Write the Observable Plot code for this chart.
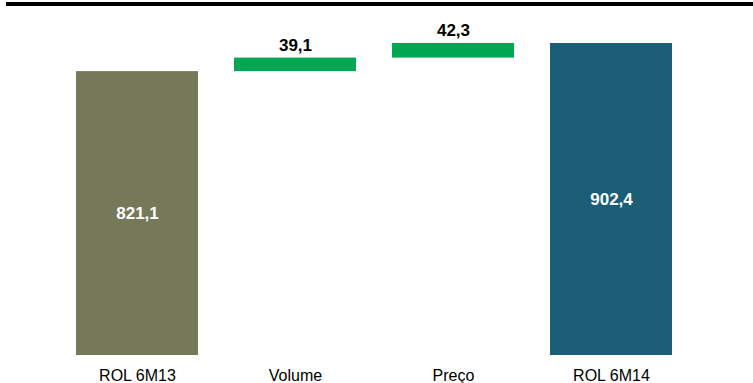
<!DOCTYPE html>
<html>
<head>
<meta charset="utf-8">
<script src="https://cdn.jsdelivr.net/npm/d3@7"></script>
<script src="https://cdn.jsdelivr.net/npm/@observablehq/plot@0.6"></script>
<style>
  html, body { margin: 0; padding: 0; background: #fff; }
  #wrap { position: relative; width: 753px; height: 383px; overflow: hidden; }
  #topline { position: absolute; left: 6px; right: 0; top: 2px; height: 4px; background: #000; }
  #chart { position: absolute; left: 0; top: 0; }
</style>
</head>
<body>
<div id="wrap"><div id="topline"></div><div id="chart"></div></div>
<script>
const categories = ["ROL 6M13", "Volume", "Preço", "ROL 6M14"];
const values = [821.1, 39.1, 42.3, 902.4];
const kinds = ["total", "delta", "delta", "total"];
const colors = {"ROL 6M13": "#76785a", "Volume": "#00a651", "Preço": "#00a651", "ROL 6M14": "#1c5e78"};

let running = 0;
const data = categories.map((c, i) => {
  let y1, y2;
  if (kinds[i] === "total") { y1 = 0; y2 = values[i]; running = values[i]; }
  else { y1 = running; y2 = running + values[i]; running = y2; }
  return {cat: c, value: values[i], kind: kinds[i], y1, y2, mid: (y1 + y2) / 2,
          label: values[i].toFixed(1).replace(".", ",")};
});
const totals = data.filter(d => d.kind === "total");
const deltas = data.filter(d => d.kind === "delta");

const chart = Plot.plot({
  width: 753,
  height: 383,
  marginTop: 43,
  marginBottom: 28,
  marginLeft: 39,
  marginRight: 44,
  style: {fontFamily: "'Liberation Sans', Arial, sans-serif", background: "transparent", overflow: "visible"},
  x: {domain: categories, padding: 0.23, label: null},
  y: {domain: [0, 902.4], axis: null},
  marks: [
    Plot.rectY(data, {x: "cat", y1: "y1", y2: "y2", fill: d => colors[d.cat]}),
    Plot.text(totals, {x: "cat", y: "mid", text: "label", fill: "white", fontWeight: "bold", fontSize: 17}),
    Plot.text(deltas, {x: "cat", y: "y2", text: "label", fill: "black", fontWeight: "bold", fontSize: 17, dy: -13}),
    Plot.axisX({tickSize: 0, tickPadding: 14, fontSize: 16, label: null, fill: "#000"})
  ]
});
document.getElementById("chart").appendChild(chart);
</script>
</body>
</html>
